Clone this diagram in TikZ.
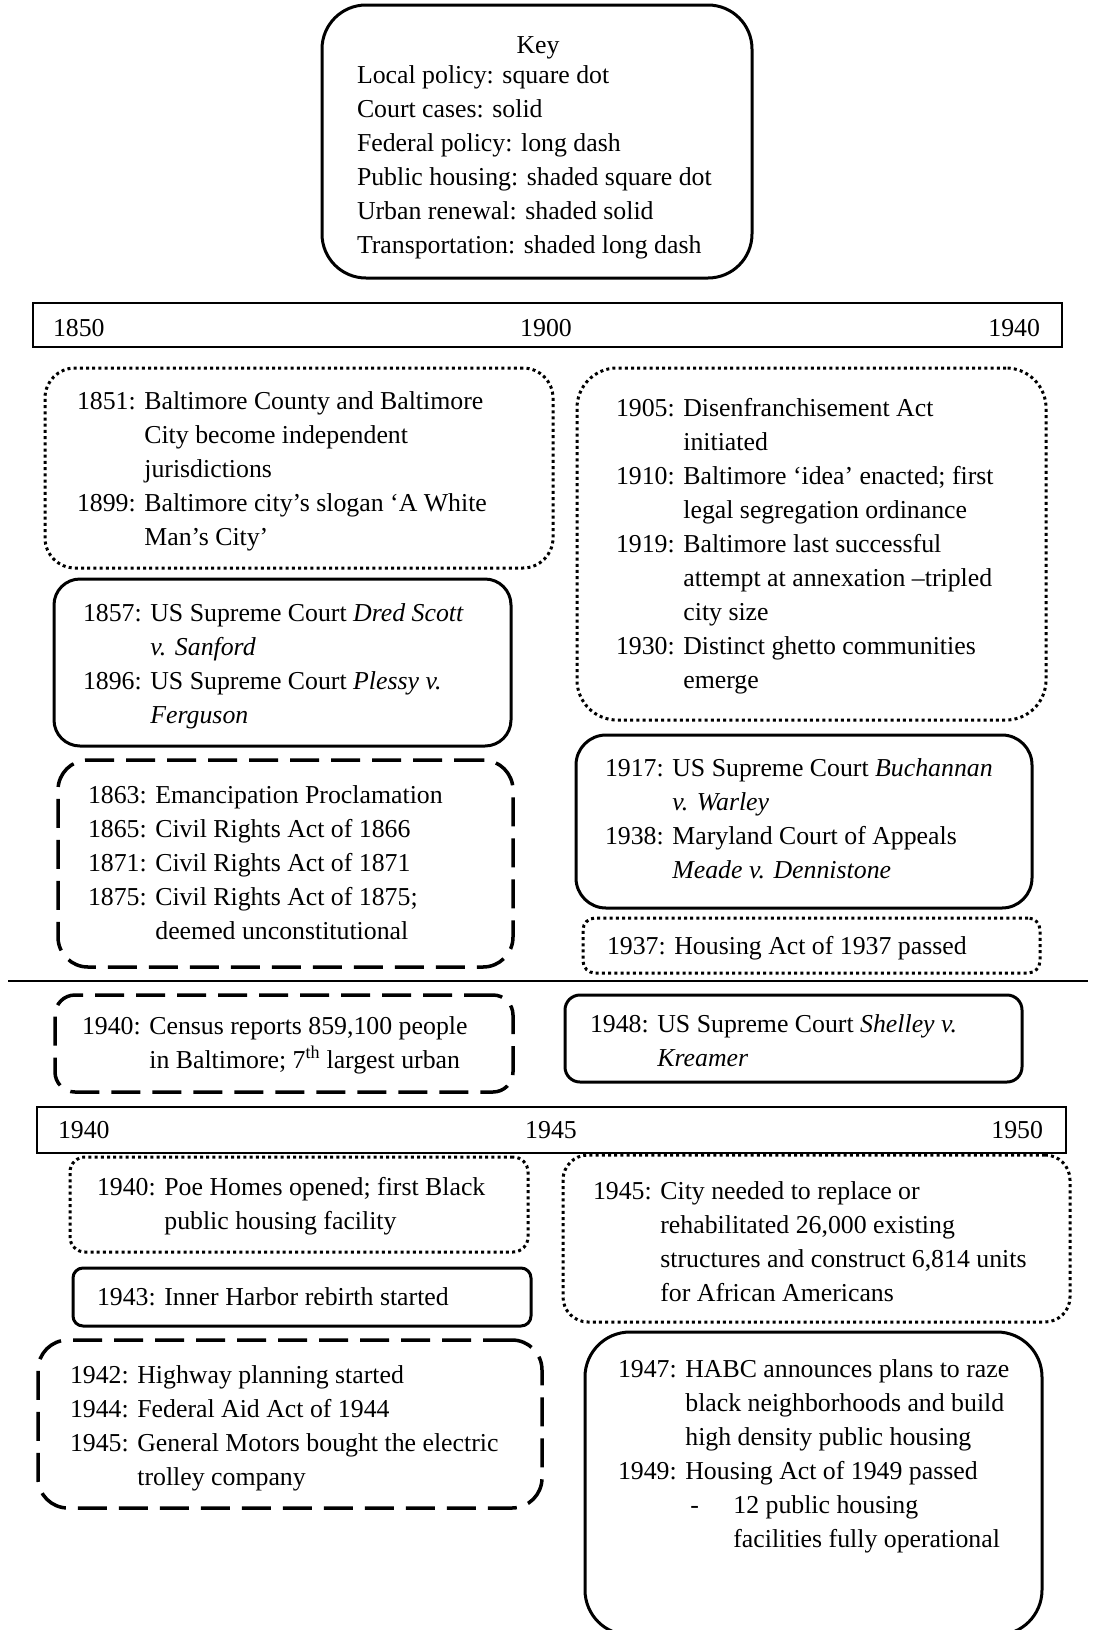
\documentclass[tikz,border=0pt]{standalone}
\usepackage{fontspec}
\setmainfont{Liberation Serif}
\begin{document}
\begin{tikzpicture}[x=1pt,y=-1pt,
  every node/.style={font=\fontsize{25.8}{34}\selectfont, inner sep=0pt, outer sep=0pt},
  txt/.style={anchor=base west},
  boxbase/.style={draw=black, anchor=north west, minimum width=#1},
  solidbox/.style={boxbase=#1, line width=3pt},
  dotbox/.style={boxbase=#1, line width=3pt, dash pattern=on 3pt off 3.2pt},
  longdashbox/.style={boxbase=#1, line width=3.5pt, dash pattern=on 29pt off 12pt},
  bar/.style={draw=black, line width=2pt, anchor=north west, minimum width=#1}
]
\useasboundingbox (0,0) rectangle (1112,1630);
\fill[white] (0,0) rectangle (1112,1630);
\newcommand{\tl}[1]{\begin{tabular}[t]{@{}l@{ }l@{}}#1\end{tabular}}

% Key
\node[solidbox=430pt, minimum height=273pt, rounded corners=44pt] (keybox) at (322,5) {};
\node[anchor=base] (keytitle) at (538,53) {Key};
\node[txt] (keytext) at (357,83) {\begin{tabular}[t]{@{}l@{}}Local policy: square dot\\ Court cases: solid\\ Federal policy: long dash\\ Public housing: shaded square dot\\ Urban renewal: shaded solid\\ Transportation: shaded long dash\end{tabular}};

% Timeline 1
\node[bar=1029pt, minimum height=44pt] (bar1) at (33,303) {};
\node[txt] (t1850) at (53,336) {1850};
\node[anchor=base] (t1900) at (546,336) {1900};
\node[anchor=base east] (t1940a) at (1040,336) {1940};

% Box A
\node[dotbox=508pt, minimum height=200pt, rounded corners=30pt] (boxA) at (45,368) {};
\node[txt] (textA) at (77,409) {\tl{1851: & Baltimore County and Baltimore\\ & City become independent\\ & jurisdictions\\ 1899: & Baltimore city’s slogan ‘A White\\ & Man’s City’}};

% Box B
\node[dotbox=469pt, minimum height=352pt, rounded corners=40pt] (boxB) at (577,368) {};
\node[txt] (textB) at (616,416) {\tl{1905: & Disenfranchisement Act\\ & initiated\\ 1910: & Baltimore ‘idea’ enacted; first\\ & legal segregation ordinance\\ 1919: & Baltimore last successful\\ & attempt at annexation –tripled\\ & city size\\ 1930: & Distinct ghetto communities\\ & emerge}};

% Box C
\node[solidbox=457pt, minimum height=167pt, rounded corners=26pt] (boxC) at (54,579) {};
\node[txt] (textC) at (83,621) {\tl{1857: & US Supreme Court \textit{Dred Scott}\\ & \textit{v. Sanford}\\ 1896: & US Supreme Court \textit{Plessy v.}\\ & \textit{Ferguson}}};

% Box D
\node[longdashbox=455pt, minimum height=207pt, rounded corners=30pt] (boxD) at (58,760) {};
\node[txt] (textD) at (88,803) {\tl{1863: & Emancipation Proclamation\\ 1865: & Civil Rights Act of 1866\\ 1871: & Civil Rights Act of 1871\\ 1875: & Civil Rights Act of 1875;\\ & deemed unconstitutional}};

% Box E
\node[solidbox=456pt, minimum height=173pt, rounded corners=30pt] (boxE) at (576,735) {};
\node[txt] (textE) at (605,776) {\tl{1917: & US Supreme Court \textit{Buchannan}\\ & \textit{v. Warley}\\ 1938: & Maryland Court of Appeals\\ & \textit{Meade v. Dennistone}}};

% Box F
\node[dotbox=457pt, minimum height=55pt, rounded corners=12pt] (boxF) at (583,918) {};
\node[txt] (textF) at (607,954) {1937: Housing Act of 1937 passed};

% Separator
\coordinate (sepL) at (8,981);
\coordinate (sepR) at (1088,981);
\draw[line width=2pt] (sepL) -- (sepR);

% Box G
\node[longdashbox=458pt, minimum height=97pt, rounded corners=20pt] (boxG) at (55,995) {};
\node[txt] (textG) at (82,1034) {\tl{1940: & Census reports 859,100 people\\ & in Baltimore; 7\textsuperscript{th} largest urban}};

% Box H
\node[solidbox=457pt, minimum height=87pt, rounded corners=15pt] (boxH) at (565,995) {};
\node[txt] (textH) at (590,1032) {\tl{1948: & US Supreme Court \textit{Shelley v.}\\ & \textit{Kreamer}}};

% Timeline 2
\node[bar=1029pt, minimum height=46pt] (bar2) at (37,1107) {};
\node[txt] (t1940b) at (58,1138) {1940};
\node[anchor=base] (t1945) at (551,1138) {1945};
\node[anchor=base east] (t1950) at (1043,1138) {1950};

% Box I
\node[dotbox=458pt, minimum height=95pt, rounded corners=15pt] (boxI) at (70,1157) {};
\node[txt] (textI) at (97,1195) {\tl{1940: & Poe Homes opened; first Black\\ & public housing facility}};

% Box J
\node[solidbox=458pt, minimum height=58pt, rounded corners=10pt] (boxJ) at (73,1268) {};
\node[txt] (textJ) at (97,1305) {1943: Inner Harbor rebirth started};

% Box K
\node[longdashbox=504pt, minimum height=168pt, rounded corners=30pt] (boxK) at (38,1340) {};
\node[txt] (textK) at (70,1383) {\tl{1942: & Highway planning started\\ 1944: & Federal Aid Act of 1944\\ 1945: & General Motors bought the electric\\ & trolley company}};

% Box L
\node[dotbox=507pt, minimum height=167pt, rounded corners=25pt] (boxL) at (563,1155) {};
\node[txt] (textL) at (593,1199) {\tl{1945: & City needed to replace or\\ & rehabilitated 26,000 existing\\ & structures and construct 6,814 units\\ & for African Americans}};

% Box M
\node[solidbox=457pt, minimum height=303pt, rounded corners=45pt] (boxM) at (585,1332) {};
\node[txt] (textM) at (618,1377) {\tl{1947: & HABC announces plans to raze\\ & black neighborhoods and build\\ & high density public housing\\ 1949: & Housing Act of 1949 passed\\ & \makebox[48pt][l]{\hspace{5pt}-}12 public housing\\ & \makebox[48pt][l]{}facilities fully operational}};
\end{tikzpicture}
\end{document}
